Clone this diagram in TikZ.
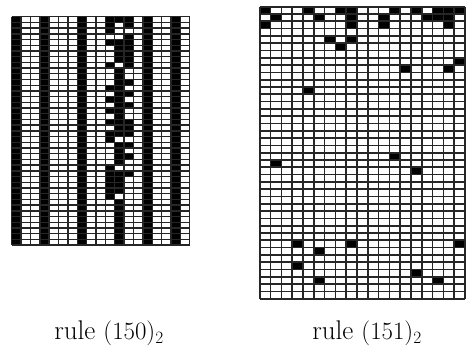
\documentclass[tikz,border=0pt]{standalone}
\usepackage{tikz}
\tikzset{
    cell/.style={fill=black},
    leftline/.style={draw=black!85, line width=1.4pt},
    rightline/.style={draw=black!85, line width=1.7pt},
    rulelabel/.style={font=\fontsize{27}{32}\selectfont, anchor=base, inner sep=0pt}}

\begin{document}
\begin{tikzpicture}[x=1pt,y=-1pt]
        \useasboundingbox (0,0) rectangle (466,355);

        \begin{scope}[shift={(11.7,16.7)}, x=9.37pt, y=-5.71pt]
            \foreach \c in {0,3,7,14,17}
                \fill[cell] (\c,0) rectangle ++(1,40);
            \foreach \r/\cs in {0/{10,11,12},1/{10,12},2/{10},3/{12},4/{10,11,12},5/{11,12},
                    6/{11,12},7/{11,12},8/{10,12},9/{11},10/{11},11/{11,12},12/{10,11},
                    13/{11,12},14/{10,11},15/{11,12},16/{10,11},17/{11},18/{10,11,12},
                    19/{11,12},20/{10,11,12},21/{10},22/{11,12},23/{11},24/{11,12},25/{11},
                    26/{10},27/{10,11,12},28/{10,11},29/{10,11},30/{10,11},31/{10}}
                \foreach \c in \cs
                    \fill[cell] (\c,\r) rectangle ++(1,1);
            \fill[cell] (11,32) rectangle (12,40);
            \foreach \c in {0,...,19}
                \draw[leftline] (\c,0) -- (\c,40);
            \foreach \r in {0,...,40}
                \draw[leftline] (0,\r) -- (19,\r);
        \end{scope}

        \begin{scope}[shift={(259.8,6.7)}, x=10.8pt, y=-7.3pt]
            \foreach \r/\cs in {0/{0,4,7,8,12,14,16,17,18},1/{1,5,8,11,15,16,17},2/{0,8,11,17},
                    4/{6,8},5/{7},7/{18},8/{13,17},11/{4},20/{12},21/{1},22/{14},
                    32/{3,8,18},33/{5},35/{3},36/{14},37/{5,16}}
                \foreach \c in \cs
                    \fill[cell] (\c,\r) rectangle ++(1,1);
            \foreach \c in {0,...,19}
                \draw[rightline] (\c,0) -- (\c,40);
            \foreach \r in {0,...,40}
                \draw[rightline] (0,\r) -- (19,\r);
        \end{scope}

        \node[rulelabel] (rule150) at (109,340) {rule $(150)_2$};
        \node[rulelabel] (rule151) at (367,340) {rule $(151)_2$};

\end{tikzpicture}
\end{document}
